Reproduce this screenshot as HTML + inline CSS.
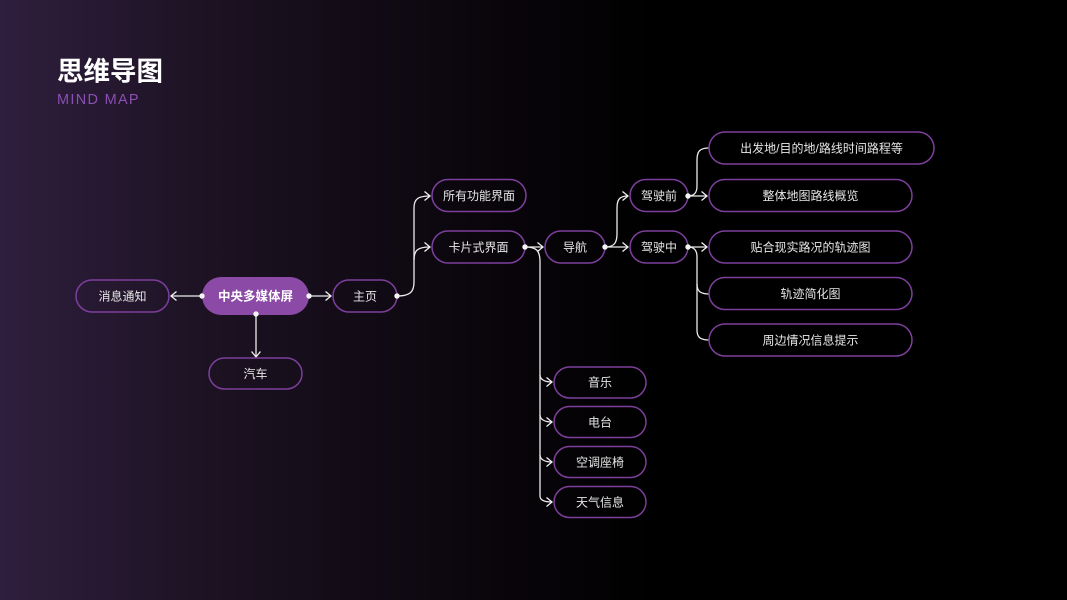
<!DOCTYPE html>
<html><head><meta charset="utf-8">
<style>
html,body{margin:0;padding:0;}
body{width:1067px;height:600px;overflow:hidden;background:linear-gradient(90deg,#2f1e3e 0%,#1c1222 20%,#0a060c 45%,#000 62%,#000 100%);font-family:"Liberation Sans","Noto Sans CJK SC",sans-serif;}
svg{position:absolute;left:0;top:0;}
</style></head><body>
<svg width="1067" height="600" viewBox="0 0 1067 600" xmlns="http://www.w3.org/2000/svg">
<defs>
<marker id="a" markerWidth="10" markerHeight="10" refX="8" refY="5" orient="auto" markerUnits="userSpaceOnUse">
<path d="M2.5,0.5 L8,5 L2.5,9.5" fill="none" stroke="#f0f0f0" stroke-width="1.3"/>
</marker>
</defs>
<text x="57" y="80.5" font-family="Liberation Sans,'Noto Sans CJK SC',sans-serif" font-size="26.5" font-weight="bold" fill="#ffffff">思维导图</text>
<text x="57" y="104" font-family="Liberation Sans,sans-serif" font-size="14.5" fill="#8a4fb3" letter-spacing="1.3">MIND MAP</text>

<g fill="none" stroke="#ececec" stroke-width="1.3">
<path d="M202,296 L171,296" marker-end="url(#a)"/>
<path d="M309,296 L331,296" marker-end="url(#a)"/>
<path d="M256,314 L256,357" marker-end="url(#a)"/>
<path d="M397,296 C410,296 414,292 414,282 L414,208 C414,199 418,196 430,196" marker-end="url(#a)"/>
<path d="M414,260 C414,250 418,247 430,247" marker-end="url(#a)"/>
<path d="M525,247 L543,247" marker-end="url(#a)"/>
<path d="M525,247 C536,247 540,250 540,262 L540,496 C540,500 544,502 552,502" marker-end="url(#a)"/>
<path d="M540,375 C540,379 544,382 552,382" marker-end="url(#a)"/>
<path d="M540,415 C540,419 544,422 552,422" marker-end="url(#a)"/>
<path d="M540,455 C540,459 544,462 552,462" marker-end="url(#a)"/>
<path d="M605,247 L628,247" marker-end="url(#a)"/>
<path d="M605,247 C614,247 617,243 617,234 L617,208 C617,199 620,196 628,196" marker-end="url(#a)"/>
<path d="M688,196 L707,196" marker-end="url(#a)"/>
<path d="M688,196 C694,196 697,193 697,186 L697,160 C697,151 700,148 709,148"/>
<path d="M688,247 L707,247" marker-end="url(#a)"/>
<path d="M688,247 C694,247 697,250 697,257 L697,330 C697,337 700,340 709,340"/>
<path d="M697,284 C697,291 700,294 709,294"/>
</g>

<g fill="none" stroke="#7d3f9c" stroke-width="1.5">
<rect x="76" y="280" width="93" height="32" rx="16"/>
<rect x="333" y="280" width="64" height="32" rx="16"/>
<rect x="209" y="358" width="93" height="31" rx="15.5"/>
<rect x="432" y="179.5" width="94" height="32" rx="16"/>
<rect x="432" y="231" width="93" height="32" rx="16"/>
<rect x="545" y="231" width="60" height="32" rx="16"/>
<rect x="630" y="179.5" width="58" height="32" rx="16"/>
<rect x="630" y="231" width="58" height="32" rx="16"/>
<rect x="709" y="132" width="225" height="32" rx="16"/>
<rect x="709" y="179.5" width="203" height="32" rx="16"/>
<rect x="709" y="231" width="203" height="32" rx="16"/>
<rect x="709" y="277.5" width="203" height="32" rx="16"/>
<rect x="709" y="324" width="203" height="32" rx="16"/>
<rect x="554" y="367" width="92" height="31" rx="15.5"/>
<rect x="554" y="406.5" width="92" height="31" rx="15.5"/>
<rect x="554" y="446.5" width="92" height="31" rx="15.5"/>
<rect x="554" y="486.5" width="92" height="31" rx="15.5"/>
</g>
<rect x="202" y="277" width="107" height="38" rx="19" fill="#8a4aa6"/>

<g fill="#f4f4f4">
<circle cx="202" cy="296" r="2.7"/>
<circle cx="309" cy="296" r="2.7"/>
<circle cx="256" cy="314" r="2.7"/>
<circle cx="397" cy="296" r="2.7"/>
<circle cx="525" cy="247" r="2.7"/>
<circle cx="605" cy="247" r="2.7"/>
<circle cx="688" cy="196" r="2.7"/>
<circle cx="688" cy="247" r="2.7"/>
</g>

<g font-family="Liberation Sans,'Noto Sans CJK SC',sans-serif" font-size="12" fill="#e6e6e6" text-anchor="middle">
<text x="255.5" y="300.5" font-weight="bold" fill="#ffffff" font-size="12.5">中央多媒体屏</text>
<text x="122.5" y="300.5">消息通知</text>
<text x="365" y="300.5">主页</text>
<text x="255.5" y="378">汽车</text>
<text x="479" y="200">所有功能界面</text>
<text x="478.5" y="251.5">卡片式界面</text>
<text x="575" y="251.5">导航</text>
<text x="659" y="200">驾驶前</text>
<text x="659" y="251.5">驾驶中</text>
<text x="821.5" y="152.5">出发地/目的地/路线时间路程等</text>
<text x="810.5" y="200">整体地图路线概览</text>
<text x="810.5" y="251.5">贴合现实路况的轨迹图</text>
<text x="810.5" y="298">轨迹简化图</text>
<text x="810.5" y="344.5">周边情况信息提示</text>
<text x="600" y="386.5">音乐</text>
<text x="600" y="426.5">电台</text>
<text x="600" y="466.5">空调座椅</text>
<text x="600" y="506.5">天气信息</text>
</g>
</svg>
</body></html>
